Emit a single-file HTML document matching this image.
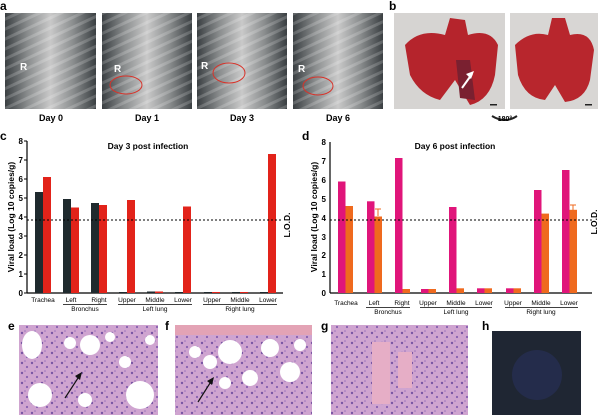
<!DOCTYPE html>
<html><head><meta charset="utf-8"><style>
html,body{margin:0;padding:0;background:#fff;}
svg{display:block;font-family:"Liberation Sans",sans-serif;}
</style></head><body>
<svg width="600" height="415" viewBox="0 0 600 415" xmlns="http://www.w3.org/2000/svg">
<defs>
<linearGradient id="xr" x1="0" x2="1" y1="0" y2="0">
<stop offset="0" stop-color="#3a3f42"/><stop offset="0.25" stop-color="#8a8d8e"/><stop offset="0.5" stop-color="#c9c9c9"/><stop offset="0.75" stop-color="#8a8d8e"/><stop offset="1" stop-color="#3a3f42"/></linearGradient>
<pattern id="rib" width="12" height="9" patternUnits="userSpaceOnUse" patternTransform="rotate(-25)"><rect width="12" height="3" fill="#fff" opacity="0.18"/></pattern>
<pattern id="he" width="10" height="10" patternUnits="userSpaceOnUse"><rect width="10" height="10" fill="#cfa4d0"/><circle cx="2" cy="3" r="1.2" fill="#7a56a4"/><circle cx="7" cy="7" r="1.1" fill="#8660b0"/><circle cx="5" cy="1" r="0.8" fill="#9a74bc"/></pattern>
</defs>
<!-- a -->
<text x="0" y="10" font-size="12" font-weight="bold">a</text>
<g>
<rect x="5" y="13" width="91" height="96" fill="url(#xr)"/><rect x="5" y="13" width="91" height="96" fill="url(#rib)"/>
<rect x="102" y="13" width="90" height="96" fill="url(#xr)"/><rect x="102" y="13" width="90" height="96" fill="url(#rib)"/>
<rect x="197" y="13" width="90" height="96" fill="url(#xr)"/><rect x="197" y="13" width="90" height="96" fill="url(#rib)"/>
<rect x="293" y="13" width="90" height="96" fill="url(#xr)"/><rect x="293" y="13" width="90" height="96" fill="url(#rib)"/>
<text x="20" y="70" font-size="10" font-weight="bold" fill="#fff">R</text>
<text x="114" y="72" font-size="10" font-weight="bold" fill="#fff">R</text>
<text x="201" y="69" font-size="10" font-weight="bold" fill="#fff">R</text>
<text x="298" y="72" font-size="10" font-weight="bold" fill="#fff">R</text>
<ellipse cx="126" cy="85" rx="16" ry="9" fill="none" stroke="#d8332a" stroke-width="1"/>
<ellipse cx="229" cy="73" rx="16" ry="10" fill="none" stroke="#d8332a" stroke-width="1"/>
<ellipse cx="318" cy="86" rx="15" ry="9" fill="none" stroke="#d8332a" stroke-width="1"/>
<g font-size="9" font-weight="bold" text-anchor="middle"><text x="51" y="121">Day 0</text><text x="147" y="121">Day 1</text><text x="242" y="121">Day 3</text><text x="338" y="121">Day 6</text></g>
</g>
<!-- b -->
<text x="389" y="10" font-size="12" font-weight="bold">b</text>
<rect x="394" y="13" width="111" height="96" fill="#d6d4d2"/>
<rect x="510" y="13" width="88" height="96" fill="#d8d6d4"/>
<path d="M405 45 Q420 28 445 35 L450 18 L465 20 L468 35 Q490 28 498 45 L495 75 Q490 100 470 105 L455 80 L440 100 Q420 95 410 75 Z" fill="#b5242c"/>
<path d="M456 60 L470 60 L475 100 L460 98 Z" fill="#7a2030"/>
<path d="M515 45 Q530 30 548 35 L552 18 L565 18 L570 35 Q590 30 594 50 L590 80 Q585 100 565 102 L555 85 L545 100 Q525 98 518 75 Z" fill="#b8262d"/>
<path d="M462 88 L472 74" stroke="#fff" stroke-width="2"/><path d="M474 71 L466 74 L471 79 Z" fill="#fff"/>
<rect x="490" y="104" width="7" height="1.5" fill="#222"/><rect x="585" y="104" width="7" height="1.5" fill="#222"/>
<path d="M492 116 Q505 124 517 116" fill="none" stroke="#222" stroke-width="2"/>
<text x="505" y="121" font-size="7" font-weight="bold" text-anchor="middle">180°</text>

<!-- c -->
<text x="0" y="140" font-size="12" font-weight="bold">c</text>
<text x="148" y="149" font-size="8.5" font-weight="bold" text-anchor="middle">Day 3 post infection</text>
<g stroke="#000" stroke-width="1.2"><line x1="27" y1="141" x2="27" y2="293"/><line x1="27" y1="293" x2="283" y2="293"/></g>
<g font-size="8" font-weight="bold" text-anchor="end">
<text x="23" y="296">0</text><text x="23" y="277">1</text><text x="23" y="258">2</text><text x="23" y="239">3</text><text x="23" y="220">4</text><text x="23" y="201">5</text><text x="23" y="182">6</text><text x="23" y="163">7</text><text x="23" y="144">8</text></g>
<g stroke="#000"><line x1="24" y1="293" x2="27" y2="293"/><line x1="24" y1="274" x2="27" y2="274"/><line x1="24" y1="255" x2="27" y2="255"/><line x1="24" y1="236" x2="27" y2="236"/><line x1="24" y1="217" x2="27" y2="217"/><line x1="24" y1="198" x2="27" y2="198"/><line x1="24" y1="179" x2="27" y2="179"/><line x1="24" y1="160" x2="27" y2="160"/><line x1="24" y1="141" x2="27" y2="141"/></g>
<text transform="translate(14,217) rotate(-90)" font-size="8.5" font-weight="bold" text-anchor="middle">Viral load (Log 10 copies/g)</text>
<g fill="#1f2a2e">
<rect x="35" y="192" width="8" height="101"/><rect x="63" y="199" width="8" height="94"/><rect x="91" y="203" width="8" height="90"/>
<rect x="119" y="292" width="8" height="1"/><rect x="147" y="291.5" width="8" height="1.5"/><rect x="175" y="292" width="8" height="1"/>
<rect x="204" y="292" width="8" height="1"/><rect x="232" y="292" width="8" height="1"/><rect x="260" y="292" width="8" height="1"/></g>
<g fill="#e2231a">
<rect x="43" y="177" width="8" height="116"/><rect x="71" y="207.5" width="8" height="85.5"/><rect x="99" y="205" width="8" height="88"/>
<rect x="127" y="200" width="8" height="93"/><rect x="155" y="291.5" width="8" height="1.5"/><rect x="183" y="206.5" width="8" height="86.5"/>
<rect x="212" y="292" width="8" height="1"/><rect x="240" y="292" width="8" height="1"/><rect x="268" y="154" width="8" height="139"/></g>
<line x1="27" y1="220" x2="283" y2="220" stroke="#000" stroke-dasharray="2,2" stroke-width="1"/>
<text transform="translate(290,225) rotate(-90)" font-size="8.5" font-weight="bold" text-anchor="middle">L.O.D.</text>
<g font-size="6.5" text-anchor="middle">
<text x="43" y="302">Trachea</text><text x="71" y="302">Left</text><text x="99" y="302">Right</text><text x="127" y="302">Upper</text><text x="155" y="302">Middle</text><text x="183" y="302">Lower</text><text x="212" y="302">Upper</text><text x="240" y="302">Middle</text><text x="268" y="302">Lower</text>
<text x="85" y="311">Bronchus</text><text x="155" y="311">Left lung</text><text x="240" y="311">Right lung</text></g>
<g stroke="#000" stroke-width="0.8"><line x1="63" y1="304.5" x2="107" y2="304.5"/><line x1="118" y1="304.5" x2="192" y2="304.5"/><line x1="203" y1="304.5" x2="277" y2="304.5"/></g>

<!-- d -->
<text x="302" y="140" font-size="12" font-weight="bold">d</text>
<text x="455" y="149" font-size="8.5" font-weight="bold" text-anchor="middle">Day 6 post infection</text>
<g stroke="#000" stroke-width="1.2"><line x1="330" y1="142" x2="330" y2="293"/><line x1="330" y1="293" x2="592" y2="293"/></g>
<g font-size="8" font-weight="bold" text-anchor="end">
<text x="326" y="296">0</text><text x="326" y="277">1</text><text x="326" y="258">2</text><text x="326" y="240">3</text><text x="326" y="221">4</text><text x="326" y="202">5</text><text x="326" y="183">6</text><text x="326" y="164">7</text><text x="326" y="145">8</text></g>
<text transform="translate(317,217) rotate(-90)" font-size="8.5" font-weight="bold" text-anchor="middle">Viral load (Log 10 copies/g)</text>
<g fill="#e0157a">
<rect x="338" y="181.5" width="7.5" height="111.5"/><rect x="367" y="201.3" width="7.5" height="91.7"/><rect x="395" y="158" width="7.5" height="135"/>
<rect x="421" y="289" width="7.5" height="4"/><rect x="449" y="207" width="7.5" height="86"/><rect x="477" y="288.3" width="7.5" height="4.7"/>
<rect x="506" y="288.3" width="7.5" height="4.7"/><rect x="534" y="190" width="7.5" height="103"/><rect x="562" y="170" width="7.5" height="123"/></g>
<g fill="#ef6a1e">
<rect x="345.5" y="206" width="7.5" height="87"/><rect x="374.5" y="216.5" width="7.5" height="76.5"/><rect x="402.5" y="289" width="7.5" height="4"/>
<rect x="428.5" y="289" width="7.5" height="4"/><rect x="456.5" y="288.3" width="7.5" height="4.7"/><rect x="484.5" y="288.3" width="7.5" height="4.7"/>
<rect x="513.5" y="288.3" width="7.5" height="4.7"/><rect x="541.5" y="213.6" width="7.5" height="79.4"/><rect x="569.5" y="209.8" width="7.5" height="83.2"/></g>
<g stroke="#ef6a1e" stroke-width="1"><line x1="378" y1="209" x2="378" y2="216"/><line x1="375" y1="209" x2="381" y2="209"/><line x1="573" y1="205" x2="573" y2="210"/><line x1="570" y1="205" x2="576" y2="205"/></g>
<line x1="330" y1="220" x2="592" y2="220" stroke="#000" stroke-dasharray="2,2" stroke-width="1"/>
<text transform="translate(597,222) rotate(-90)" font-size="8.5" font-weight="bold" text-anchor="middle">L.O.D.</text>
<g font-size="6.5" text-anchor="middle">
<text x="346" y="305">Trachea</text><text x="374" y="305">Left</text><text x="402" y="305">Right</text><text x="428" y="305">Upper</text><text x="456" y="305">Middle</text><text x="484" y="305">Lower</text><text x="513" y="305">Upper</text><text x="541" y="305">Middle</text><text x="569" y="305">Lower</text>
<text x="388" y="314">Bronchus</text><text x="456" y="314">Left lung</text><text x="541" y="314">Right lung</text></g>
<g stroke="#000" stroke-width="0.8"><line x1="366" y1="307.5" x2="410" y2="307.5"/><line x1="420" y1="307.5" x2="492" y2="307.5"/><line x1="505" y1="307.5" x2="578" y2="307.5"/></g>

<!-- e-h -->
<g font-size="12" font-weight="bold"><text x="8" y="330">e</text><text x="165" y="330">f</text><text x="321" y="330">g</text><text x="482" y="330">h</text></g>
<rect x="19" y="325" width="139" height="90" fill="url(#he)"/>
<g fill="#fff"><ellipse cx="32" cy="345" rx="10" ry="14"/><circle cx="90" cy="345" r="10"/><circle cx="70" cy="343" r="6"/><circle cx="140" cy="395" r="14"/><circle cx="110" cy="337" r="5"/><circle cx="40" cy="395" r="12"/><circle cx="125" cy="362" r="6"/><circle cx="85" cy="400" r="7"/><circle cx="150" cy="340" r="5"/></g>
<path d="M65 398 L80 375" stroke="#111" stroke-width="1.2"/><path d="M82 372 L75 376 L80 380 Z" fill="#111"/>
<rect x="175" y="325" width="137" height="90" fill="url(#he)"/>
<rect x="175" y="325" width="137" height="10" fill="#e3a3b5"/>
<g fill="#fff"><circle cx="230" cy="352" r="12"/><circle cx="270" cy="348" r="9"/><circle cx="210" cy="362" r="7"/><circle cx="290" cy="372" r="10"/><circle cx="250" cy="378" r="8"/><circle cx="195" cy="352" r="6"/><circle cx="300" cy="345" r="6"/><circle cx="225" cy="383" r="6"/></g>
<path d="M198 402 L212 380" stroke="#111" stroke-width="1.2"/><path d="M214 377 L207 381 L212 385 Z" fill="#111"/>
<rect x="331" y="325" width="137" height="90" fill="url(#he)"/>
<g fill="#e6aec6"><rect x="372" y="342" width="18" height="62"/><rect x="398" y="352" width="14" height="36"/></g>
<rect x="492" y="331" width="89" height="84" fill="#1f2633"/>
<circle cx="537" cy="375" r="25" fill="#262f55" opacity="0.7"/>
</svg>
</body></html>
